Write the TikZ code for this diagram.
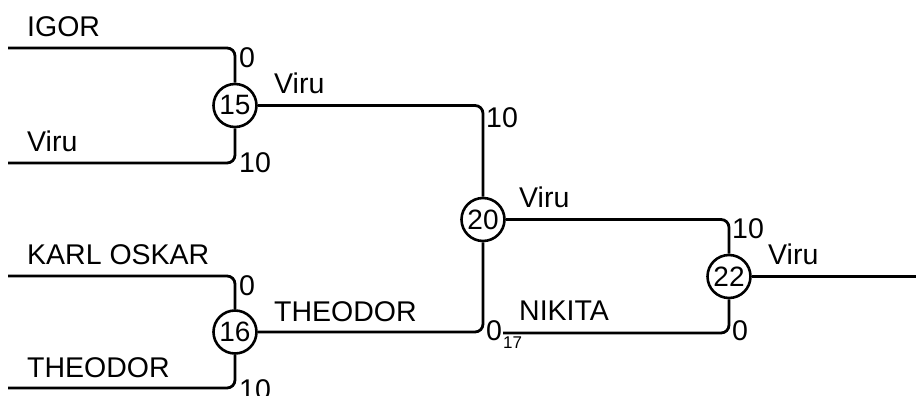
\documentclass[tikz,border=0pt]{standalone}
\usepackage{fontspec}
\setmainfont{Liberation Sans}
\usetikzlibrary{positioning}

\begin{document}
\begin{tikzpicture}[x=1pt,y=-1pt,
                    match node/.style={circle,draw,line width=2.6pt,minimum size=43pt,inner sep=0pt,font=\fontsize{28}{28}\selectfont},
                    name label/.style={anchor=base west,inner sep=0pt,font=\fontsize{28.5}{28.5}\selectfont},
                    score/.style={anchor=base west,inner sep=0pt,font=\fontsize{28.5}{28.5}\selectfont},
                    link/.style={line width=2.8pt,rounded corners=8pt}]

  \useasboundingbox (0,0) rectangle (916,396);

  % matches
  \node[match node] (m15) at (235,105.5) {15};
  \node[match node] (m16) at (235,332) {16};
  \node[match node] (m20) at (483,219.5) {20};
  \node[match node] (m22) at (729,276.5) {22};

  % entry points
  \coordinate (igor) at (8,48);
  \coordinate (viru) at (8,163);
  \coordinate (karl) at (8,276);
  \coordinate (theo) at (8,388);
  \coordinate (nikita) at (503,333);
  \coordinate (winner) at (916,276.5);

  \draw[link] (igor) -| (m15);
  \draw[link] (viru) -| (m15);
  \draw[link] (karl) -| (m16);
  \draw[link] (theo) -| (m16);
  \draw[link] (m15) -| (m20);
  \draw[link] (m16) -| (m20);
  \draw[link] (m20) -| (m22);
  \draw[link] (nikita) -| (m22);
  \draw[link] (m22) -- (winner);

  % names
  \node[name label] (l1) at (27,37) {IGOR};
  \node[name label] (l2) at (27,151) {Viru};
  \node[name label] (l3) at (27,264) {KARL OSKAR};
  \node[name label] (l4) at (27,377) {THEODOR};
  \node[name label] (l5) at (274,93) {Viru};
  \node[name label] (l6) at (274,321) {THEODOR};
  \node[name label] (l7) at (519,207) {Viru};
  \node[name label] (l8) at (519,320) {NIKITA};
  \node[name label] (l9) at (768,264) {Viru};

  % scores
  \node[score] (s1) at (239,67) {0};
  \node[score] (s2) at (239,172) {10};
  \node[score] (s3) at (239,295) {0};
  \node[score] (s4) at (239,399) {10};
  \node[score] (s5) at (486,128) {10};
  \node[score] (s6) at (486,340) {0};
  \node[score,font=\fontsize{17}{17}\selectfont] (s7) at (503,348) {17};
  \node[score] (s8) at (732,238) {10};
  \node[score] (s9) at (732,340) {0};

\end{tikzpicture}
\end{document}
